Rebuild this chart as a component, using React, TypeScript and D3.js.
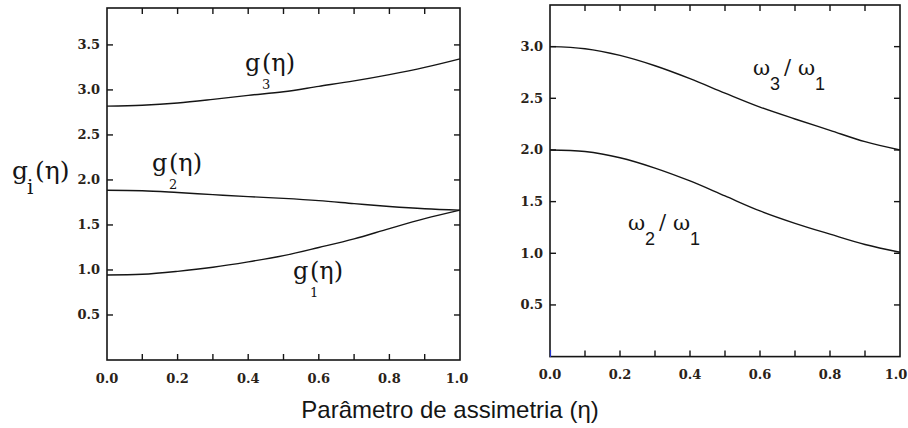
import React from "react";
import * as d3 from "d3";

// Asymmetry parameter samples (shared x values for every curve)
const eta = [0, 0.1, 0.2, 0.3, 0.4, 0.5, 0.6, 0.7, 0.8, 0.9, 1.0];

// Left panel: g_i(eta)
const g1 = [0.945, 0.952, 0.985, 1.03, 1.09, 1.16, 1.25, 1.345, 1.46, 1.57, 1.665];
const g2 = [1.885, 1.88, 1.86, 1.837, 1.815, 1.795, 1.77, 1.737, 1.705, 1.68, 1.665];
const g3 = [2.82, 2.83, 2.855, 2.895, 2.94, 2.98, 3.04, 3.1, 3.17, 3.25, 3.345];

// Right panel: frequency ratios
const w2w1 = [2.0, 1.985, 1.925, 1.825, 1.7, 1.555, 1.41, 1.29, 1.185, 1.085, 1.01];
const w3w1 = [3.0, 2.98, 2.915, 2.815, 2.69, 2.55, 2.415, 2.3, 2.19, 2.08, 2.0];

// Axis ticks
const xTicks = [0.1, 0.2, 0.3, 0.4, 0.5, 0.6, 0.7, 0.8, 0.9];
const xTickLabels = ["0.0", "0.2", "0.4", "0.6", "0.8", "1.0"];
const yTicksLeft = [0.5, 1.0, 1.5, 2.0, 2.5, 3.0, 3.5];
const yTicksRight = [0.5, 1.0, 1.5, 2.0, 2.5, 3.0];

const INK = "#151515";
const LABEL_INK = "#2a2218";
const TICK_FONT = "'DejaVu Serif', serif";
const SERIF = "'DejaVu Serif', 'Liberation Serif', serif";
const SANS = "'Liberation Sans', Arial, sans-serif";

type PanelProps = {
  left: number;
  right: number;
  top: number;
  bottom: number;
  yMax: number;
  yTicks: number[];
  series: number[][];
  labelY: number;
  lastLabelShift: number;
};

function Panel({ left, right, top, bottom, yMax, yTicks, series, labelY, lastLabelShift }: PanelProps) {
  const x = d3.scaleLinear().domain([0, 1]).range([left, right]);
  const y = d3.scaleLinear().domain([0, yMax]).range([bottom, top]);
  const line = d3
    .line<number>()
    .x((_, i) => x(eta[i]))
    .y((d) => y(d))
    .curve(d3.curveCatmullRom.alpha(0.5));
  const tl = 6;
  return (
    <g>
      {series.map((s, i) => (
        <path key={i} d={line(s) || ""} fill="none" stroke={INK} strokeWidth={1.4} />
      ))}
      <rect x={left} y={top} width={right - left} height={bottom - top} fill="none" stroke={INK} strokeWidth={1.6} />
      {xTicks.map((t) => (
        <g key={"x" + t}>
          <line x1={x(t)} x2={x(t)} y1={bottom} y2={bottom - tl} stroke={INK} strokeWidth={1.4} />
          <line x1={x(t)} x2={x(t)} y1={top} y2={top + tl} stroke={INK} strokeWidth={1.4} />
        </g>
      ))}
      {yTicks.map((t) => (
        <g key={"y" + t}>
          <line x1={left} x2={left + tl} y1={y(t)} y2={y(t)} stroke={INK} strokeWidth={1.4} />
          <line x1={right} x2={right - tl} y1={y(t)} y2={y(t)} stroke={INK} strokeWidth={1.4} />
          <text
            x={left - 7}
            y={y(t) + 4.5}
            textAnchor="end"
            fontFamily={TICK_FONT}
            fontWeight="bold"
            fontSize={13}
            fill={LABEL_INK}
          >
            {t.toFixed(1)}
          </text>
        </g>
      ))}
      {xTickLabels.map((s, i) => (
        <text
          key={"xl" + s}
          x={x(+s) - (i === xTickLabels.length - 1 ? lastLabelShift : 0)}
          y={labelY}
          textAnchor="middle"
          fontFamily={TICK_FONT}
          fontWeight="bold"
          fontSize={13}
          fill={LABEL_INK}
        >
          {s}
        </text>
      ))}
    </g>
  );
}

// g_k(η) with the index set low, tucked beneath the opening parenthesis
function GLabel({ x, y, sub }: { x: number; y: number; sub: string }) {
  return (
    <text x={x} y={y} fill={INK} fontFamily={SERIF} fontSize={24}>
      <tspan x={x}>g</tspan>
      <tspan x={x + 17} dy={17.5} fontSize={13}>{sub}</tspan>
      <tspan x={x + 17} dy={-17.5}>(η)</tspan>
    </text>
  );
}

function WLabel({ x, y, sub }: { x: number; y: number; sub: string }) {
  return (
    <text x={x} y={y} fill={INK} fontFamily={SERIF} fontSize={21}>
      <tspan x={x}>ω</tspan>
      <tspan x={x + 17} dy={15} fontSize={18} fontFamily={SANS}>{sub}</tspan>
      <tspan x={x + 31} dy={-16}>/</tspan>
      <tspan x={x + 45} dy={1}>ω</tspan>
      <tspan x={x + 62} dy={15} fontSize={18} fontFamily={SANS}>1</tspan>
    </text>
  );
}

export default function App() {
  return (
    <svg
      width={908}
      height={428}
      viewBox="0 0 908 428"
      style={{ position: "absolute", left: 0, top: 0, background: "#fff" }}
    >
      <rect x={0} y={0} width={908} height={428} fill="#fff" />
      <Panel left={107} right={460} top={8} bottom={360} yMax={3.91} yTicks={yTicksLeft} series={[g1, g2, g3]} labelY={383} lastLabelShift={3} />
      <Panel left={550} right={900} top={5} bottom={356.6} yMax={3.403} yTicks={yTicksRight} series={[w2w1, w3w1]} labelY={379} lastLabelShift={4} />
      <line x1={550.5} x2={550.5} y1={350} y2={357} stroke="#2233cc" strokeWidth={1.2} />

      <GLabel x={245} y={71} sub="3" />
      <GLabel x={152} y={171} sub="2" />
      <GLabel x={293} y={279} sub="1" />

      <text x={12} y={179} fill={INK} fontFamily={SERIF} fontSize={25}>
        <tspan x={12}>g</tspan>
        <tspan x={27} dy={15} fontSize={20}>i</tspan>
        <tspan x={35} dy={-15}>(η)</tspan>
      </text>

      <WLabel x={753} y={75} sub="3" />
      <WLabel x={628} y={230} sub="2" />

      <text x={450} y={418} textAnchor="middle" fontFamily={SANS} fontSize={24} fill={INK}>
        Parâmetro de assimetria (η)
      </text>
    </svg>
  );
}
